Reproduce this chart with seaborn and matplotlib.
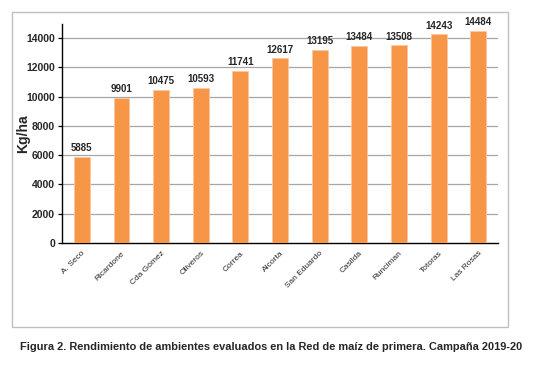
import numpy as np
import pandas as pd
import matplotlib.pyplot as plt
import seaborn as sns
from matplotlib.patches import Rectangle
from matplotlib import font_manager

localidades = ['A. Seco', 'Ricardone', 'Cda Gómez', 'Oliveros', 'Correa', 'Alcorta',
               'San Eduardo', 'Casilda', 'Runciman', 'Totoras', 'Las Rosas']
rendimiento = [5885, 9901, 10475, 10593, 11741, 12617, 13195, 13484, 13508, 14243, 14484]
y_ticks = [0, 2000, 4000, 6000, 8000, 10000, 12000, 14000]

caption = 'Figura 2. Rendimiento de ambientes evaluados en la Red de maíz de primera. Campaña 2019-20'

sns.set_style('white')
plt.rcParams['font.family'] = ['Liberation Sans', 'DejaVu Sans']

names = {f.name for f in font_manager.fontManager.ttflist}
cap_font = 'Liberation Sans Narrow' if 'Liberation Sans Narrow' in names else 'Liberation Sans'

df = pd.DataFrame({'loc': localidades, 'kg': rendimiento})

fig = plt.figure(figsize=(5.41, 3.70), dpi=100)
ax = fig.add_axes([0.1146, 0.3432, 0.806, 0.5918])

sns.barplot(data=df, x='loc', y='kg', color='#F79646', width=0.4,
            saturation=1, edgecolor='#FBC79E', linewidth=0.6, ax=ax, zorder=3)

ax.set_ylim(0, 14950)
ax.set_xlim(-0.5, len(localidades) - 0.5)
ax.set_yticks(y_ticks)
ax.set_yticklabels([str(v) for v in y_ticks], fontsize=7.5, fontweight='bold')
for v in y_ticks[1:]:
    ax.axhline(v, color='#A6A6A6', lw=0.9, zorder=1)

ax.set_xticks(range(len(localidades)))
ax.set_xticklabels(localidades, rotation=45, ha='right', rotation_mode='anchor', fontsize=6)
ax.tick_params(axis='x', which='major', length=0, pad=5)
ax.set_xticks(np.arange(-0.5, len(localidades)), minor=True)
ax.tick_params(axis='x', which='minor', length=3, width=0.9, color='black', direction='out')
ax.tick_params(axis='y', length=3, width=0.9, color='black', direction='out', pad=2, left=True)

for s in ['top', 'right']:
    ax.spines[s].set_visible(False)
for s in ['left', 'bottom']:
    ax.spines[s].set_color('black')
    ax.spines[s].set_linewidth(1.0)

ax.set_xlabel('')
ax.set_ylabel('Kg/ha', fontsize=10, fontweight='bold')
ax.yaxis.set_label_coords(-0.072, 0.5)

for i, v in enumerate(rendimiento):
    ax.text(i, v + 250, str(v), ha='center', va='bottom', fontsize=7, fontweight='bold')

fig.patches.append(Rectangle((0.0222, 0.1162), 0.9168, 0.851, transform=fig.transFigure,
                             fill=False, edgecolor='#BFBFBF', lw=1.0))

fig.text(0.501, 0.062, caption, ha='center', va='center', fontsize=7.9,
         fontweight='bold', family=cap_font)

fig.savefig('out.png', dpi=100)
